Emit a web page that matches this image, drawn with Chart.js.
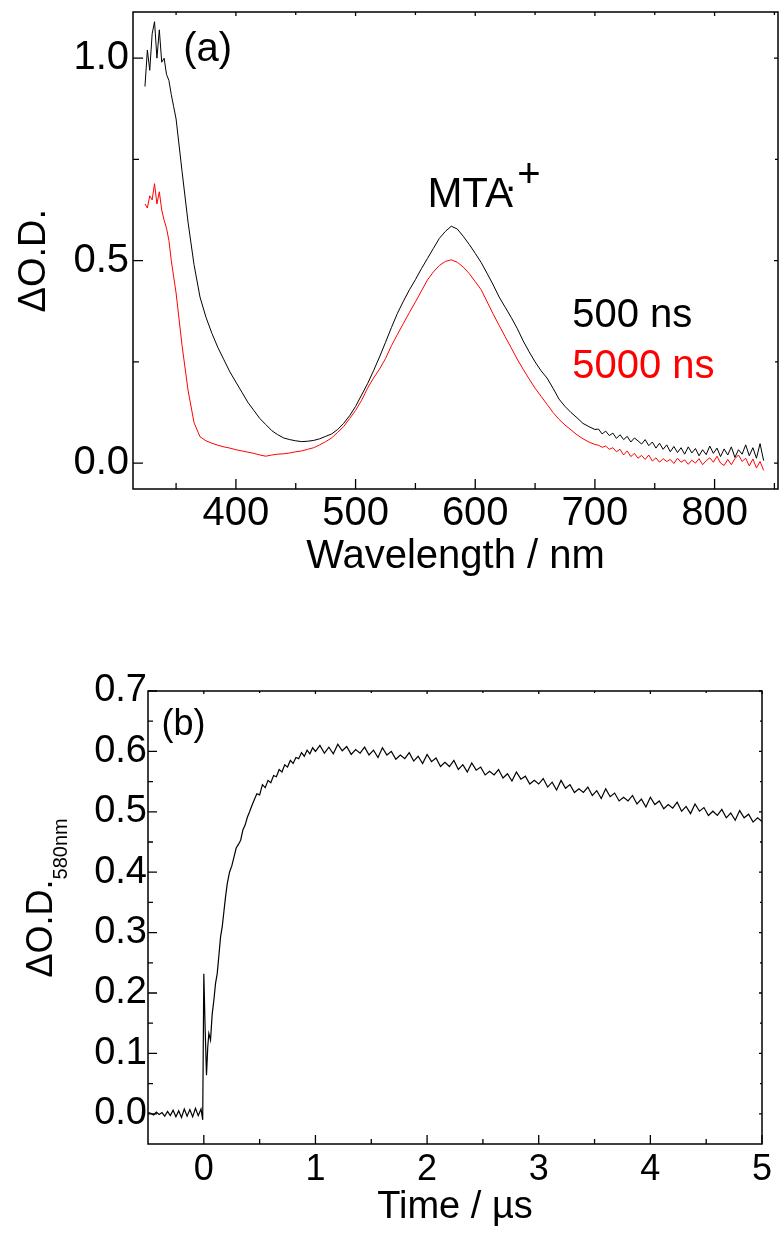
<!DOCTYPE html>
<html>
<head>
<meta charset="utf-8">
<script src="https://cdn.jsdelivr.net/npm/chart.js@4.4.1/dist/chart.umd.min.js"></script>
<style>
  html, body { margin: 0; padding: 0; background: #fff; }
  #wrapA { position: absolute; left: 0; top: 0; width: 781px; height: 620px; }
  #wrapB { position: absolute; left: 0; top: 640px; width: 781px; height: 593px; }
</style>
</head>
<body>
<div id="wrapA"><canvas id="chartA"></canvas></div>
<div id="wrapB"><canvas id="chartB"></canvas></div>
<script>
// ---------- panel (a): transient spectra ----------
const wavelengthNm = [
  324, 326, 328, 330, 332, 334, 336, 338, 340, 342, 344, 346, 348, 350,
  355, 360, 365, 370, 375, 380, 385, 390, 395, 400,
  405, 410, 415, 420, 425, 430, 435, 440, 445, 450,
  455, 460, 465, 470, 475, 480, 485, 490, 495, 500,
  505, 510, 515, 520, 525, 530, 535, 540, 545, 550,
  555, 560, 565, 570, 575, 580, 585, 590, 595, 600,
  605, 610, 615, 620, 625, 630, 635, 640, 645, 650,
  655, 660, 665, 670, 675, 680, 685, 690, 695, 700,
  703, 706, 709, 712, 715, 718, 721, 724, 727, 730,
  733, 736, 739, 742, 745, 748, 751, 754, 757, 760,
  763, 766, 769, 772, 775, 778, 781, 784, 787, 790,
  793, 796, 799, 802, 805, 808, 811, 814, 817, 820,
  823, 826, 829, 832, 835, 838, 841
];
const od500ns = [
  0.93, 1.02, 0.97, 1.06, 1.09, 1.00, 1.07, 0.99, 1.00, 0.96, 0.945, 0.91, 0.88, 0.85,
  0.72, 0.595, 0.49, 0.41, 0.36, 0.32, 0.285, 0.255, 0.225, 0.2,
  0.175, 0.15, 0.13, 0.11, 0.095, 0.08, 0.07, 0.062, 0.058, 0.055,
  0.053, 0.054, 0.056, 0.06, 0.066, 0.072, 0.083, 0.098, 0.117, 0.14,
  0.168, 0.196, 0.228, 0.262, 0.298, 0.335, 0.37, 0.4, 0.428, 0.453,
  0.48, 0.505, 0.53, 0.555, 0.572, 0.585, 0.578, 0.56, 0.54, 0.518,
  0.495, 0.468, 0.44, 0.41, 0.385, 0.36, 0.333, 0.302, 0.275, 0.25,
  0.228, 0.21, 0.185, 0.158, 0.14, 0.125, 0.112, 0.098, 0.09, 0.083,
  0.084, 0.072, 0.079, 0.068, 0.074, 0.061, 0.07, 0.058, 0.066, 0.052,
  0.062, 0.055, 0.047, 0.058, 0.043, 0.052, 0.037, 0.049, 0.034, 0.045,
  0.028, 0.041, 0.026, 0.038, 0.022, 0.04, 0.025, 0.036, 0.018, 0.033,
  0.021, 0.042, 0.024, 0.037, 0.016, 0.035, 0.02, 0.04, 0.014, 0.033,
  0.022, 0.045, 0.018, 0.038, 0.012, 0.048, 0.006
];
const od5000ns = [
  0.64, 0.63, 0.66, 0.65, 0.69, 0.64, 0.67, 0.625, 0.6, 0.58, 0.55, 0.5, 0.46, 0.42,
  0.29, 0.18, 0.1, 0.065, 0.055, 0.049, 0.044, 0.04, 0.037, 0.033,
  0.03, 0.027, 0.024, 0.02, 0.017, 0.02, 0.022, 0.023, 0.025, 0.028,
  0.03, 0.034, 0.038, 0.045, 0.053, 0.062, 0.076, 0.09, 0.11, 0.13,
  0.155, 0.185, 0.21, 0.232, 0.258, 0.29, 0.318, 0.345, 0.372, 0.398,
  0.425, 0.452, 0.472, 0.488, 0.498, 0.502, 0.496, 0.484, 0.468, 0.448,
  0.428, 0.398, 0.368, 0.34, 0.312, 0.285, 0.257, 0.232, 0.208, 0.185,
  0.165, 0.145, 0.125, 0.108, 0.094, 0.082, 0.07, 0.06, 0.052, 0.046,
  0.044, 0.039, 0.042, 0.034, 0.038, 0.028, 0.034, 0.02, 0.03, 0.016,
  0.024, 0.012, 0.019, 0.009, 0.02, 0.005, 0.013, 0.002, 0.011, 0.004,
  0.009, -0.001, 0.012, 0.002, 0.008, -0.003, 0.007, 0.0, 0.011, -0.004,
  0.006, 0.013, 0.002, 0.017, 0.0, -0.006, 0.009, -0.004, 0.011, 0.02,
  0.004, 0.012, -0.007, 0.01, -0.012, 0.004, -0.018
];
const wavelengthTicks = [400, 500, 600, 700, 800];
const wavelengthMinorTicks = [350, 450, 550, 650, 750, 850];
const odTicksA = [0.0, 0.5, 1.0];
const odMinorTicksA = [0.25, 0.75];

// ---------- panel (b): decay trace at 580 nm ----------
const timeUs = [
  -0.5, -0.475, -0.45, -0.425, -0.4, -0.375, -0.35, -0.325, -0.3, -0.275,
  -0.25, -0.225, -0.2, -0.175, -0.15, -0.125, -0.1, -0.075, -0.05, -0.025, -0.01,
  0.0, 0.012, 0.024, 0.035, 0.045, 0.06, 0.075, 0.09, 0.105, 0.12,
  0.134, 0.15, 0.165, 0.18, 0.195, 0.21, 0.23, 0.25, 0.27, 0.29,
  0.31, 0.33, 0.35, 0.37, 0.39, 0.41, 0.43, 0.45, 0.475, 0.5,
  0.525, 0.55, 0.575, 0.6, 0.625, 0.65, 0.675, 0.7, 0.725, 0.75,
  0.775, 0.8, 0.825, 0.85, 0.875, 0.9, 0.925, 0.95, 0.975, 1.0,
  1.04, 1.08, 1.12, 1.16, 1.2, 1.24, 1.28, 1.32, 1.36, 1.4,
  1.44, 1.48, 1.52, 1.56, 1.6, 1.64, 1.68, 1.72, 1.76, 1.8,
  1.84, 1.88, 1.92, 1.96, 2.0, 2.04, 2.08, 2.12, 2.16, 2.2,
  2.24, 2.28, 2.32, 2.36, 2.4, 2.44, 2.48, 2.52, 2.56, 2.6,
  2.64, 2.68, 2.72, 2.76, 2.8, 2.84, 2.88, 2.92, 2.96, 3.0,
  3.04, 3.08, 3.12, 3.16, 3.2, 3.24, 3.28, 3.32, 3.36, 3.4,
  3.44, 3.48, 3.52, 3.56, 3.6, 3.64, 3.68, 3.72, 3.76, 3.8,
  3.84, 3.88, 3.92, 3.96, 4.0, 4.04, 4.08, 4.12, 4.16, 4.2,
  4.24, 4.28, 4.32, 4.36, 4.4, 4.44, 4.48, 4.52, 4.56, 4.6,
  4.64, 4.68, 4.72, 4.76, 4.8, 4.84, 4.88, 4.92, 4.96, 5.0
];
const od580nm = [
  0.002, 0.001, -0.002, 0.003, -0.001, 0.002, -0.004, 0.004, -0.003, 0.006,
  -0.005, 0.005, -0.006, 0.008, -0.004, 0.007, -0.005, 0.009, -0.003, 0.008, -0.01,
  0.232, 0.14, 0.064, 0.11, 0.133, 0.122, 0.165, 0.188, 0.216, 0.232,
  0.26, 0.293, 0.31, 0.335, 0.36, 0.381, 0.4, 0.41, 0.425, 0.44,
  0.446, 0.453, 0.47, 0.478, 0.491, 0.5, 0.51, 0.519, 0.53, 0.528,
  0.545, 0.54, 0.552, 0.548, 0.56, 0.558, 0.57, 0.566, 0.578, 0.574,
  0.585, 0.58, 0.59, 0.588, 0.598, 0.592, 0.602, 0.596, 0.606, 0.6,
  0.61, 0.597, 0.607, 0.596, 0.612, 0.601, 0.608, 0.595, 0.603, 0.597,
  0.607, 0.594, 0.602, 0.59, 0.606, 0.594, 0.6, 0.587, 0.594, 0.588,
  0.598, 0.584, 0.592, 0.58, 0.595, 0.583, 0.589, 0.575, 0.582, 0.575,
  0.585, 0.57, 0.578, 0.566, 0.581, 0.569, 0.574, 0.561, 0.567, 0.561,
  0.57, 0.556, 0.563, 0.551, 0.566, 0.554, 0.559, 0.546, 0.552, 0.546,
  0.555, 0.541, 0.549, 0.536, 0.552, 0.539, 0.545, 0.532, 0.538, 0.532,
  0.541, 0.527, 0.535, 0.522, 0.538, 0.525, 0.531, 0.518, 0.524, 0.518,
  0.527, 0.513, 0.521, 0.508, 0.524, 0.512, 0.518, 0.505, 0.512, 0.506,
  0.516, 0.501, 0.509, 0.497, 0.513, 0.501, 0.507, 0.494, 0.501, 0.494,
  0.504, 0.49, 0.498, 0.486, 0.502, 0.49, 0.496, 0.483, 0.49, 0.484
];
const timeTicks = [0, 1, 2, 3, 4, 5];
const timeMinorTicks = [0.5, 1.5, 2.5, 3.5, 4.5];
const odTicksB = [0.0, 0.1, 0.2, 0.3, 0.4, 0.5, 0.6, 0.7];
const odMinorTicksB = [0.05, 0.15, 0.25, 0.35, 0.45, 0.55, 0.65];

// ------------------------------------------------------------
const FONT = "'Liberation Sans', Arial, sans-serif";

function fixedTicks(values) {
  return axis => { axis.ticks = values.map(v => ({ value: v })); };
}

// fixed axis thickness, no extra label overhang padding
function fixSize(prop, px) {
  return s => {
    s[prop] = px;
    s.paddingTop = 0; s.paddingBottom = 0;
    s.paddingLeft = 0; s.paddingRight = 0;
  };
}

function pairs(xs, ys) {
  return xs.map((x, i) => ({ x, y: ys[i] }));
}

// frame with inward ticks on all four sides + text annotations
const framePlugin = {
  id: 'frame',
  afterDatasetsDraw(chart, args, o) {
    const { ctx, chartArea: a, scales: { x, y } } = chart;
    ctx.save();
    ctx.strokeStyle = '#000';
    ctx.lineWidth = o.lineWidth;
    ctx.strokeRect(a.left, a.top, a.right - a.left, a.bottom - a.top);

    ctx.lineWidth = o.tickWidth;
    ctx.beginPath();
    const xt = (v, len, mlen) => {
      const px = x.getPixelForValue(v);
      ctx.moveTo(px, a.bottom); ctx.lineTo(px, a.bottom - len);
      ctx.moveTo(px, a.top); ctx.lineTo(px, a.top + mlen);
    };
    const yt = (v, len, mlen) => {
      const py = y.getPixelForValue(v);
      ctx.moveTo(a.left, py); ctx.lineTo(a.left + len, py);
      ctx.moveTo(a.right, py); ctx.lineTo(a.right - mlen, py);
    };
    x.ticks.forEach(t => xt(t.value, o.majorLen, o.mirrorLen));
    o.xMinor.forEach(v => xt(v, o.minorLen, o.mirrorLen - 1));
    y.ticks.forEach(t => yt(t.value, o.majorLen, o.mirrorLen));
    o.yMinor.forEach(v => yt(v, o.minorLen, o.mirrorLen - 1));
    ctx.stroke();
    ctx.restore();
  },
  afterDraw(chart, args, o) {
    const { ctx, chartArea: a, scales: { x, y } } = chart;
    ctx.save();
    ctx.textAlign = 'left';
    ctx.textBaseline = 'middle';
    for (const lab of o.labels) {
      let px = x.getPixelForValue(lab.x);
      const py = y.getPixelForValue(lab.y);
      ctx.fillStyle = lab.color || '#000';
      for (const p of lab.parts) {
        ctx.font = `${p.size}px ${FONT}`;
        px += p.dx || 0;
        ctx.fillText(p.text, px, py + (p.dy || 0));
        px += ctx.measureText(p.text).width;
      }
    }
    // rotated y title (with optional subscript)
    const t = o.yTitle;
    ctx.translate(t.x, (a.top + a.bottom) / 2 + t.shift);
    ctx.rotate(-Math.PI / 2);
    ctx.textBaseline = 'alphabetic';
    ctx.fillStyle = '#000';
    ctx.font = `${t.size}px ${FONT}`;
    ctx.fillText(t.text, 0, 0);
    if (t.sub) {
      const w = ctx.measureText(t.text).width;
      ctx.font = `${t.subSize}px ${FONT}`;
      ctx.fillText(t.sub, w + t.subDx, t.subDy);
    }
    ctx.restore();
  }
};

function axisBase(size, pad) {
  return {
    type: 'linear',
    grid: { display: false, drawTicks: false, tickLength: 0 },
    border: { display: false },
    ticks: {
      font: { family: FONT, size }, color: '#000', padding: pad,
      maxRotation: 0, minRotation: 0, autoSkip: false
    }
  };
}

// ---------------- chart (a) ----------------
const xA = axisBase(40, 1);
Object.assign(xA, {
  min: 314, max: 853,
  afterBuildTicks: fixedTicks(wavelengthTicks),
  afterFit: fixSize('height', 131),
  title: { display: true, text: 'Wavelength / nm', color: '#000',
           font: { family: FONT, size: 40 }, padding: { top: 0, bottom: 39 } }
});
xA.ticks.callback = v => String(v);

const yA = axisBase(40, 4);
Object.assign(yA, {
  min: -0.064, max: 1.114,
  afterBuildTicks: fixedTicks(odTicksA),
  afterFit: fixSize('width', 133)
});
yA.ticks.callback = v => v.toFixed(1);

new Chart(document.getElementById('chartA'), {
  type: 'line',
  data: {
    datasets: [
      { label: '500 ns', data: pairs(wavelengthNm, od500ns), borderColor: '#000',
        borderWidth: 1, pointRadius: 0, tension: 0 },
      { label: '5000 ns', data: pairs(wavelengthNm, od5000ns), borderColor: '#ff0000',
        borderWidth: 1, pointRadius: 0, tension: 0 }
    ]
  },
  options: {
    responsive: true, maintainAspectRatio: false, animation: false,
    layout: { padding: { top: 12, right: 3, left: 0, bottom: 0 } },
    scales: { x: xA, y: yA },
    plugins: {
      legend: { display: false },
      tooltip: { enabled: false },
      frame: {
        lineWidth: 1.5, tickWidth: 1.3, majorLen: 10, minorLen: 6, mirrorLen: 4,
        xMinor: wavelengthMinorTicks, yMinor: odMinorTicksA,
        labels: [
          { x: 356, y: 1.02, parts: [{ text: '(a)', size: 40 }] },
          { x: 560, y: 0.662, parts: [
              { text: 'MTA', size: 42 },
              { text: '\u00b7', size: 40, dx: -9, dy: -6 },
              { text: '+', size: 40, dx: 0, dy: -19 }] },
          { x: 681, y: 0.364, parts: [{ text: '500 ns', size: 40 }] },
          { x: 681, y: 0.238, color: '#ff0000', parts: [{ text: '5000 ns', size: 40 }] }
        ],
        yTitle: { text: '\u0394O.D.', size: 38, x: 45, shift: 62 }
      }
    }
  },
  plugins: [framePlugin]
});

// ---------------- chart (b) ----------------
const xB = axisBase(36, 4);
Object.assign(xB, {
  min: -0.5, max: 5,
  afterBuildTicks: fixedTicks(timeTicks),
  afterFit: fixSize('height', 89),
  title: { display: true, text: 'Time / \u00b5s', color: '#000',
           font: { family: FONT, size: 38 }, padding: { top: 0, bottom: 3 } }
});
xB.ticks.callback = v => String(v);

const yB = axisBase(38, 1);
Object.assign(yB, {
  min: -0.05, max: 0.7,
  afterBuildTicks: fixedTicks(odTicksB),
  afterFit: fixSize('width', 148)
});
yB.ticks.callback = v => v.toFixed(1);

new Chart(document.getElementById('chartB'), {
  type: 'line',
  data: {
    datasets: [
      { label: '580 nm', data: pairs(timeUs, od580nm), borderColor: '#000',
        borderWidth: 1.2, pointRadius: 0, tension: 0 }
    ]
  },
  options: {
    responsive: true, maintainAspectRatio: false, animation: false,
    layout: { padding: { top: 51, right: 19, left: 0, bottom: 0 } },
    scales: { x: xB, y: yB },
    plugins: {
      legend: { display: false },
      tooltip: { enabled: false },
      frame: {
        lineWidth: 1.5, tickWidth: 1.3, majorLen: 9, minorLen: 5, mirrorLen: 3,
        xMinor: timeMinorTicks, yMinor: odMinorTicksB,
        labels: [
          { x: -0.38, y: 0.643, parts: [{ text: '(b)', size: 36 }] }
        ],
        yTitle: { text: '\u0394O.D.', size: 36, x: 52, shift: 60,
                  sub: '580nm', subSize: 20, subDx: 0, subDy: 15 }
      }
    }
  },
  plugins: [framePlugin]
});
</script>
</body>
</html>
